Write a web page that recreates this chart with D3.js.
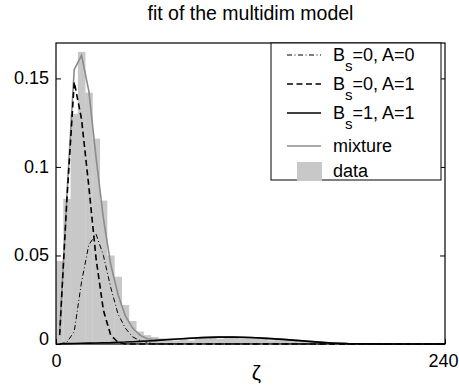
<!DOCTYPE html>
<html>
<head>
<meta charset="utf-8">
<script src="https://cdn.jsdelivr.net/npm/d3@7/dist/d3.min.js"></script>
<style>
  html, body { margin: 0; padding: 0; background: #fff; }
  svg { display: block; }
  text { font-family: "Liberation Sans", Arial, Helvetica, sans-serif; fill: #000; }
</style>
</head>
<body>
<svg id="chart" width="459" height="385"></svg>
<script>
// ---- data ----
const titleText = "fit of the multidim model";
const xLabel = "ζ";
const xTicks = [0, 240];
const yTicks = [0, 0.05, 0.1, 0.15];
const yTickLabels = ["0", "0.05", "0.1", "0.15"];
const binWidth = 4.5;
const histValues = [0.047, 0.082, 0.130, 0.165, 0.142, 0.116, 0.081, 0.050, 0.038, 0.022,
  0.013, 0.007, 0.005, 0.004, 0.003, 0.003, 0.002, 0.003, 0.002, 0.003,
  0.003, 0.004, 0.003, 0.004, 0.004, 0.003, 0.004, 0.003, 0.003, 0.002,
  0.003, 0.002, 0.002, 0.001, 0.001, 0.001, 0.0005, 0.0005];
const curveX = [2.25, 6.75, 11.25, 15.75, 20.25, 24.75, 29.25, 33.75, 38.25, 42.75,
  47.25, 51.75, 56.25, 60.75, 70, 80, 90, 100, 110, 120,
  130, 140, 150, 160, 170, 180, 190, 200, 220, 240];
const compA0 = [0, 0.001, 0.007, 0.035, 0.056, 0.062, 0.050, 0.032, 0.017, 0.009,
  0.004, 0.002, 0.001, 0, 0, 0, 0, 0, 0, 0,
  0, 0, 0, 0, 0, 0, 0, 0, 0, 0];
const compA1 = [0.005, 0.082, 0.148, 0.127, 0.089, 0.048, 0.019, 0.005, 0.001, 0,
  0, 0, 0, 0, 0, 0, 0, 0, 0, 0,
  0, 0, 0, 0, 0, 0, 0, 0, 0, 0];
const compB1 = [0.0001, 0.0002, 0.0003, 0.0004, 0.0005, 0.0006, 0.0007, 0.0008, 0.0010, 0.0011,
  0.0013, 0.0015, 0.0017, 0.0019, 0.0025, 0.0031, 0.0036, 0.0039, 0.0039, 0.0037,
  0.0032, 0.0026, 0.0019, 0.0012, 0.0006, 0.0002, 0.0001, 0, 0, 0];
const mixture = [0.006, 0.084, 0.155, 0.163, 0.143, 0.105, 0.071, 0.045, 0.028, 0.016,
  0.009, 0.005, 0.003, 0.0025, 0.0025, 0.0031, 0.0036, 0.0039, 0.0039, 0.0037,
  0.0032, 0.0026, 0.0019, 0.0012, 0.0006, 0.0002, 0.0001, 0, 0, 0];
const legendLabels = [
  {base: "B", sub: "s", rest: "=0, A=0", style: "dashdot"},
  {base: "B", sub: "s", rest: "=0, A=1", style: "dashed"},
  {base: "B", sub: "s", rest: "=1, A=1", style: "solid"},
  {base: "mixture", sub: "", rest: "", style: "mixture"},
  {base: "data", sub: "", rest: "", style: "data"}
];

// ---- layout ----
const svg = d3.select("#chart");
const L = 56, R = 445, T = 43, B = 344;
const x = d3.scaleLinear().domain([0, 240]).range([L, R]);
const y = d3.scaleLinear().domain([0, 0.17]).range([B, T]);

const styles = {
  dashdot: {stroke: "#000", width: 1, dash: "5,2.5,1,2.5"},
  dashed: {stroke: "#000", width: 1.6, dash: "6,3.5"},
  solid: {stroke: "#000", width: 1.6, dash: null},
  mixture: {stroke: "#8c8c8c", width: 1.6, dash: null}
};

// bars
svg.append("g").selectAll("rect").data(histValues).join("rect")
  .attr("x", (d, i) => x(i * binWidth))
  .attr("width", (d, i) => x((i + 1) * binWidth) - x(i * binWidth) + 0.3)
  .attr("y", d => y(d))
  .attr("height", d => y(0) - y(d))
  .attr("fill", "#c8c8c8");

const line = d3.line().x(d => x(d[0])).y(d => y(d[1]));
function drawCurve(vals, st) {
  const s = styles[st];
  svg.append("path")
    .attr("d", line(curveX.map((xx, i) => [xx, vals[i]])))
    .attr("fill", "none")
    .attr("stroke", s.stroke)
    .attr("stroke-width", s.width)
    .attr("stroke-dasharray", s.dash);
}
drawCurve(mixture, "mixture");
drawCurve(compA0, "dashdot");
drawCurve(compA1, "dashed");
drawCurve(compB1, "solid");

// axes
const fs = 18;
const yAxisL = d3.axisLeft(y).tickValues(yTicks).tickFormat((d, i) => yTickLabels[i]).tickSizeInner(-5).tickSizeOuter(0).tickPadding(7);
const yAxisR = d3.axisRight(y).tickValues(yTicks).tickFormat("").tickSizeInner(-5).tickSizeOuter(0);
const xAxisB = d3.axisBottom(x).tickValues(xTicks).tickFormat(d3.format("d")).tickSizeInner(-5).tickSizeOuter(0).tickPadding(12);

const gyl = svg.append("g").attr("transform", `translate(${L},0)`).call(yAxisL);
const gyr = svg.append("g").attr("transform", `translate(${R},0)`).call(yAxisR);
const gxb = svg.append("g").attr("transform", `translate(0,${B})`).call(xAxisB);
[gyl, gyr, gxb].forEach(g => {
  g.select(".domain").remove();
  g.selectAll(".tick line").attr("stroke", "#000").attr("stroke-width", 1);
  g.selectAll("text").attr("font-size", fs).attr("font-family", '"Liberation Sans", Arial, sans-serif').attr("fill", "#000");
});
gyl.selectAll(".tick text").attr("dy", "0.3em");
gyl.selectAll(".tick").filter(d => d === 0).select("text").attr("dy", "0.05em");
gxb.selectAll(".tick text").attr("dy", "0.6em");
gxb.selectAll(".tick").filter(d => d === 240).select("text").attr("text-anchor", "end").attr("x", 458 - x(240));

// frame
svg.append("rect").attr("x", L).attr("y", T).attr("width", R - L).attr("height", B - T)
  .attr("fill", "none").attr("stroke", "#000").attr("stroke-width", 1.2);

// title and label
svg.append("text").attr("x", (L + R) / 2).attr("y", 20).attr("text-anchor", "middle")
  .attr("font-size", 19.5).text(titleText);
svg.append("text").attr("x", (L + R) / 2 + 6).attr("y", 380).attr("text-anchor", "middle")
  .attr("font-size", 21).attr("font-family", '"DejaVu Sans", sans-serif').text(xLabel);

// legend
const lg = svg.append("g");
const lx0 = 271, ly0 = 43, lw = 170, lh = 137;
lg.append("rect").attr("x", lx0).attr("y", ly0).attr("width", lw).attr("height", lh)
  .attr("fill", "#fff").attr("stroke", "#000").attr("stroke-width", 1);
const rowCenters = [55, 84, 113, 146, 171];
legendLabels.forEach((e, i) => {
  const cy = rowCenters[i];
  if (e.style === "data") {
    lg.append("rect").attr("x", 297).attr("y", cy - 9).attr("width", 25).attr("height", 19).attr("fill", "#c8c8c8");
  } else {
    const s = styles[e.style];
    lg.append("line").attr("x1", 287).attr("x2", 321).attr("y1", cy).attr("y2", cy)
      .attr("stroke", s.stroke).attr("stroke-width", s.width).attr("stroke-dasharray", s.dash);
  }
  const t = lg.append("text").attr("x", 333).attr("y", cy + 6).attr("font-size", fs);
  t.append("tspan").text(e.base);
  if (e.sub) {
    t.append("tspan").attr("dy", 10).attr("font-size", 15).text(e.sub);
    t.append("tspan").attr("dy", -10).text(e.rest);
  }
});
</script>
</body>
</html>
